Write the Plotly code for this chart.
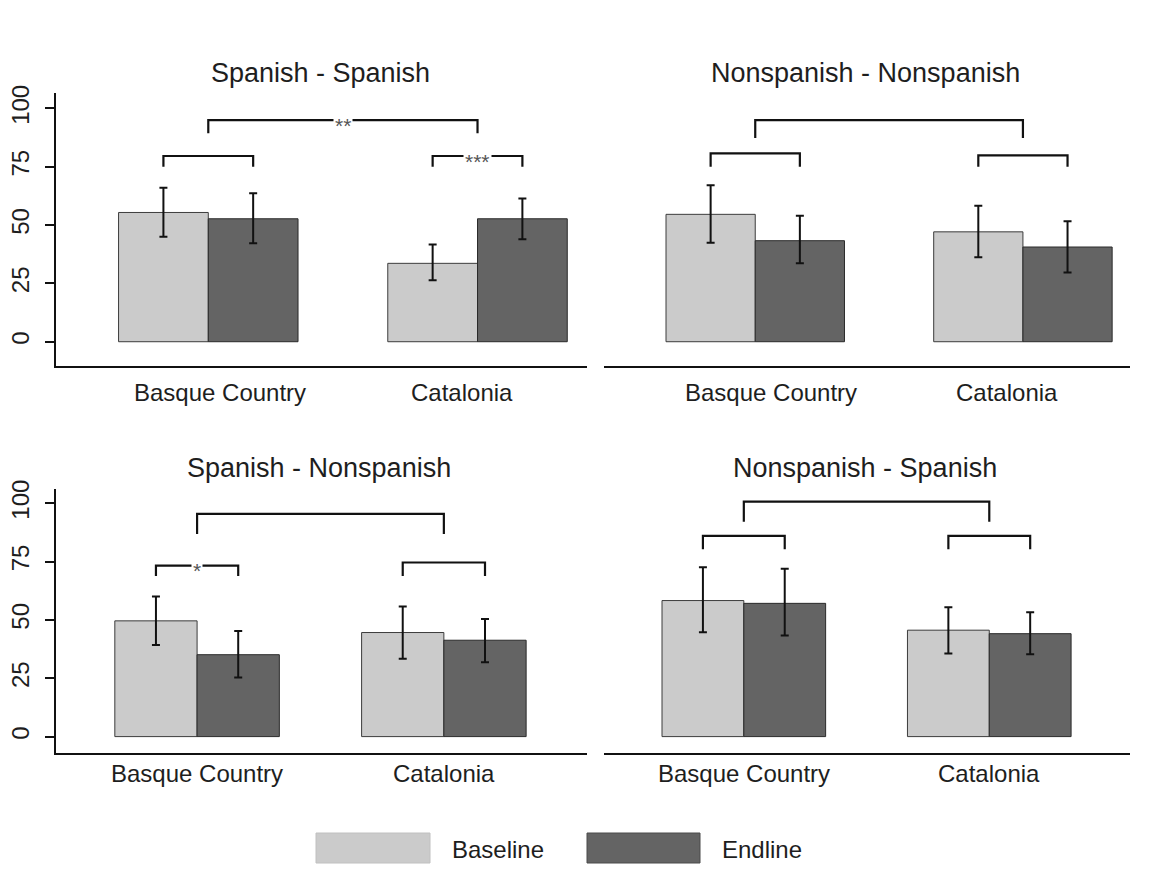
import plotly.graph_objects as go

# ---- data -------------------------------------------------------------
categories = ["Basque Country", "Catalonia"]
series_names = ["Baseline", "Endline"]
panel_titles = ["Spanish - Spanish", "Nonspanish - Nonspanish",
                "Spanish - Nonspanish", "Nonspanish - Spanish"]
y_ticks = [0, 25, 50, 75, 100]

# Spanish - Spanish
ss_baseline = [55.4, 33.6]
ss_baseline_lo = [45.0, 26.3]
ss_baseline_hi = [66.0, 41.7]
ss_endline = [52.7, 52.7]
ss_endline_lo = [42.2, 43.9]
ss_endline_hi = [63.6, 61.4]

# Nonspanish - Nonspanish
nn_baseline = [54.6, 47.1]
nn_baseline_lo = [42.4, 36.2]
nn_baseline_hi = [67.1, 58.3]
nn_endline = [43.3, 40.6]
nn_endline_lo = [33.6, 29.7]
nn_endline_hi = [54.0, 51.6]

# Spanish - Nonspanish
sn_baseline = [49.6, 44.6]
sn_baseline_lo = [39.3, 33.4]
sn_baseline_hi = [60.0, 55.7]
sn_endline = [35.1, 41.3]
sn_endline_lo = [25.3, 31.9]
sn_endline_hi = [45.3, 50.4]

# Nonspanish - Spanish
ns_baseline = [58.3, 45.6]
ns_baseline_lo = [44.7, 35.6]
ns_baseline_hi = [72.6, 55.4]
ns_endline = [57.1, 44.1]
ns_endline_lo = [43.3, 35.3]
ns_endline_hi = [71.9, 53.3]

# significance brackets: within-region (baseline vs endline) and between regions
ss_within_top = [79.6, 79.6]
ss_within_foot = [75.0, 75.0]
ss_within_stars = ["", "***"]
ss_between = [95.0, 89.3, "**"]

nn_within_top = [80.7, 79.9]
nn_within_foot = [75.0, 75.0]
nn_within_stars = ["", ""]
nn_between = [95.0, 87.3, ""]

sn_within_top = [73.3, 74.6]
sn_within_foot = [68.8, 68.8]
sn_within_stars = ["*", ""]
sn_between = [95.4, 86.8, ""]

ns_within_top = [86.0, 86.0]
ns_within_foot = [80.3, 80.3]
ns_within_stars = ["", ""]
ns_between = [100.7, 92.1, ""]

# ---- layout geometry (pixels) -----------------------------------------
W, H = 1164, 887
BASE_COLOR = "#cbcbcb"
END_COLOR = "#646464"
FONT = "Liberation Sans, Arial, Helvetica, sans-serif"
TXT = "#1e1e1e"
STAR_COLOR = "#555555"


def fx(px):
    return px / W


def fy(py):
    return 1 - py / H


panels = [
    dict(title=panel_titles[0], base=ss_baseline, base_lo=ss_baseline_lo, base_hi=ss_baseline_hi,
         end=ss_endline, end_lo=ss_endline_lo, end_hi=ss_endline_hi,
         w_top=ss_within_top, w_foot=ss_within_foot, w_stars=ss_within_stars, between=ss_between,
         xdom=(56, 587), ydom=(93, 366), xr=(0.303, 6.22), yr=(-10.4, 106.6),
         title_xy=(320, 73), label_y=393, label_shift=(12, -16), yaxis_shown=True),
    dict(title=panel_titles[1], base=nn_baseline, base_lo=nn_baseline_lo, base_hi=nn_baseline_hi,
         end=nn_endline, end_lo=nn_endline_lo, end_hi=nn_endline_hi,
         w_top=nn_within_top, w_foot=nn_within_foot, w_stars=nn_within_stars, between=nn_between,
         xdom=(604, 1130), ydom=(93, 366), xr=(0.305, 6.20), yr=(-10.4, 106.6),
         title_xy=(865, 73), label_y=393, label_shift=(16, -16), yaxis_shown=False),
    dict(title=panel_titles[2], base=sn_baseline, base_lo=sn_baseline_lo, base_hi=sn_baseline_hi,
         end=sn_endline, end_lo=sn_endline_lo, end_hi=sn_endline_hi,
         w_top=sn_within_top, w_foot=sn_within_foot, w_stars=sn_within_stars, between=sn_between,
         xdom=(56, 587), ydom=(489, 752.7), xr=(0.285, 6.74), yr=(-6.9, 106.1),
         title_xy=(319, 468), label_y=773, label_shift=(0, 0), yaxis_shown=True),
    dict(title=panel_titles[3], base=ns_baseline, base_lo=ns_baseline_lo, base_hi=ns_baseline_hi,
         end=ns_endline, end_lo=ns_endline_lo, end_hi=ns_endline_hi,
         w_top=ns_within_top, w_foot=ns_within_foot, w_stars=ns_within_stars, between=ns_between,
         xdom=(604, 1130), ydom=(489, 752.7), xr=(0.291, 6.72), yr=(-6.9, 106.1),
         title_xy=(865, 468), label_y=773, label_shift=(0, 0), yaxis_shown=False),
]

fig = go.Figure()
annotations = []
layout_axes = {}


def star_label(x, y, xa, ya, text):
    return dict(x=x, y=y, xref=xa, yref=ya, text=text, showarrow=False,
                bgcolor="white", font=dict(family=FONT, size=21, color=STAR_COLOR),
                borderpad=1, yshift=-5)


for i, p in enumerate(panels, start=1):
    xa = "x" if i == 1 else f"x{i}"
    ya = "y" if i == 1 else f"y{i}"
    # group centres at 2, 5; baseline left of centre, endline right
    centres = [2 + 3 * k for k in range(len(categories))]
    x_base = [c - 0.5 for c in centres]
    x_end = [c + 0.5 for c in centres]

    fig.add_trace(go.Bar(
        x=x_base, y=p["base"], width=1.0, name=series_names[0],
        marker=dict(color=BASE_COLOR, line=dict(color="#3c3c3c", width=1)),
        error_y=dict(type="data", symmetric=False,
                     array=[h - m for h, m in zip(p["base_hi"], p["base"])],
                     arrayminus=[m - l for m, l in zip(p["base"], p["base_lo"])],
                     color="#111111", thickness=2, width=4),
        xaxis=xa, yaxis=ya, showlegend=False, hoverinfo="skip"))
    fig.add_trace(go.Bar(
        x=x_end, y=p["end"], width=1.0, name=series_names[1],
        marker=dict(color=END_COLOR, line=dict(color="#2a2a2a", width=1)),
        error_y=dict(type="data", symmetric=False,
                     array=[h - m for h, m in zip(p["end_hi"], p["end"])],
                     arrayminus=[m - l for m, l in zip(p["end"], p["end_lo"])],
                     color="#111111", thickness=2, width=4),
        xaxis=xa, yaxis=ya, showlegend=False, hoverinfo="skip"))

    # within-region brackets
    for k in range(len(categories)):
        xs = [x_base[k], x_base[k], x_end[k], x_end[k]]
        ys = [p["w_foot"][k], p["w_top"][k], p["w_top"][k], p["w_foot"][k]]
        fig.add_trace(go.Scatter(x=xs, y=ys, mode="lines",
                                 line=dict(color="#111111", width=2.2),
                                 xaxis=xa, yaxis=ya, showlegend=False, hoverinfo="skip"))
        if p["w_stars"][k]:
            annotations.append(star_label(centres[k], p["w_top"][k], xa, ya, p["w_stars"][k]))

    # between-region bracket
    b_top, b_foot, b_stars = p["between"]
    fig.add_trace(go.Scatter(
        x=[centres[0], centres[0], centres[1], centres[1]],
        y=[b_foot, b_top, b_top, b_foot], mode="lines",
        line=dict(color="#111111", width=2.2),
        xaxis=xa, yaxis=ya, showlegend=False, hoverinfo="skip"))
    if b_stars:
        annotations.append(star_label((centres[0] + centres[1]) / 2, b_top, xa, ya, b_stars))

    # category labels under each group
    for k, cat in enumerate(categories):
        annotations.append(dict(
            x=centres[k], y=fy(p["label_y"]), xref=xa, yref="paper",
            text=cat, showarrow=False, xshift=p["label_shift"][k],
            font=dict(family=FONT, size=24, color=TXT),
            xanchor="center", yanchor="middle"))

    # panel title
    annotations.append(dict(
        x=fx(p["title_xy"][0]), y=fy(p["title_xy"][1]), xref="paper", yref="paper",
        text=p["title"], showarrow=False,
        font=dict(family=FONT, size=27, color=TXT),
        xanchor="center", yanchor="middle"))

    xkey = "xaxis" if i == 1 else f"xaxis{i}"
    ykey = "yaxis" if i == 1 else f"yaxis{i}"
    layout_axes[xkey] = dict(
        domain=[fx(p["xdom"][0]), fx(p["xdom"][1])], range=list(p["xr"]),
        anchor=ya, showline=True, linecolor="#111111", linewidth=2, automargin=False,
        showticklabels=False, ticks="", showgrid=False, zeroline=False, fixedrange=True)
    ydict = dict(
        domain=[fy(p["ydom"][1]), fy(p["ydom"][0])], range=list(p["yr"]),
        anchor=xa, showgrid=False, zeroline=False, fixedrange=True, automargin=False)
    if p["yaxis_shown"]:
        ydict.update(showline=True, linecolor="#111111", linewidth=2,
                     ticks="outside", ticklen=9, tickwidth=1.5, tickcolor="#111111",
                     tickvals=y_ticks, ticktext=[str(v) for v in y_ticks],
                     tickangle=-90, ticklabelstandoff=6,
                     tickfont=dict(family=FONT, size=24, color=TXT))
    else:
        ydict.update(visible=False)
    layout_axes[ykey] = ydict

# legend drawn beneath the panels
legend_boxes = [(316, 430, BASE_COLOR, "#c0c0c0"), (587, 700, END_COLOR, "#4a4a4a")]
legend_text_x = [450, 720]
shapes = []
for (x0, x1, fill, edge), tx, name in zip(legend_boxes, legend_text_x, series_names):
    shapes.append(dict(type="rect", xref="paper", yref="paper",
                       x0=fx(x0), x1=fx(x1), y0=fy(863), y1=fy(833),
                       fillcolor=fill, line=dict(color=edge, width=1)))
    annotations.append(dict(x=fx(tx), y=fy(849), xref="paper", yref="paper",
                            text=name, showarrow=False, xanchor="left", yanchor="middle",
                            font=dict(family=FONT, size=24, color=TXT)))

fig.update_layout(
    width=W, height=H, margin=dict(l=0, r=0, t=0, b=0, autoexpand=False),
    paper_bgcolor="white", plot_bgcolor="white",
    barmode="overlay", showlegend=False,
    annotations=annotations, shapes=shapes,
    **layout_axes)

fig.write_html("out.html")
